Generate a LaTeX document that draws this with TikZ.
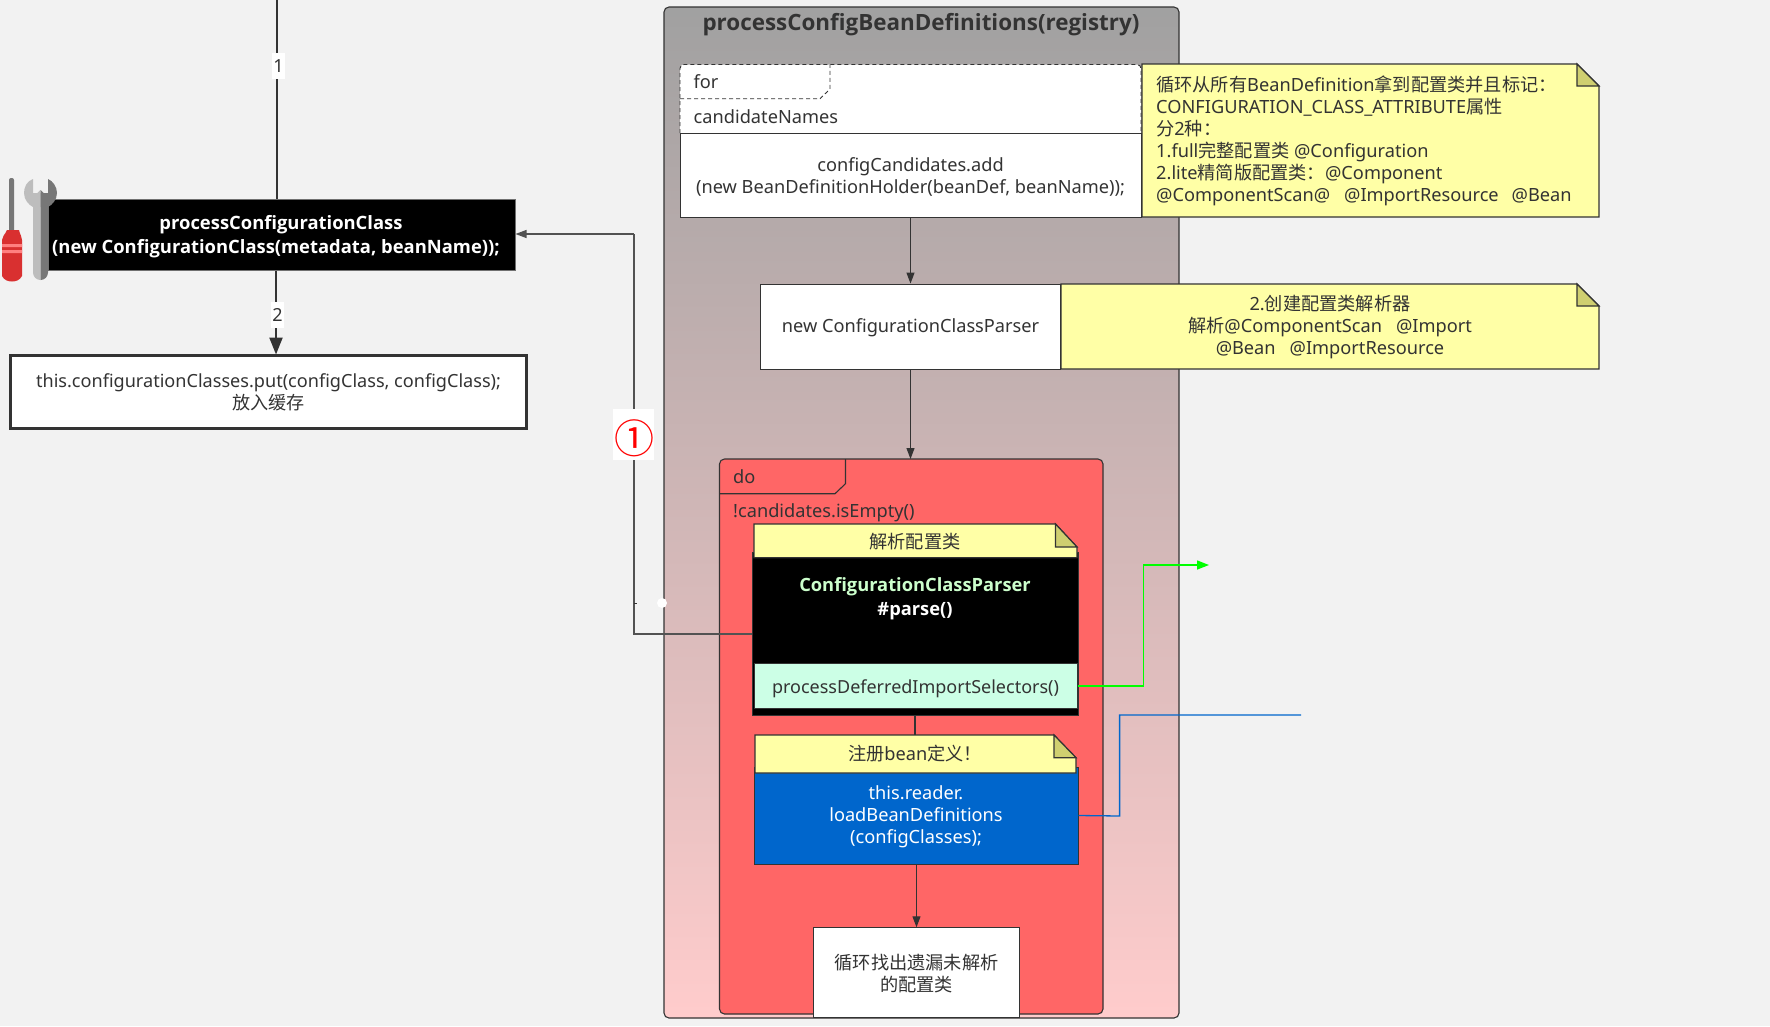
\documentclass[tikz,border=0pt]{standalone}
\usepackage{fontspec}
\setmainfont{Noto Sans}
\newfontfamily\cjk{Noto Sans CJK SC}
\newfontfamily\hb{Open Sans}
\newcommand{\cn}[1]{{\cjk #1}}
\usetikzlibrary{arrows.meta,calc}
\definecolor{bgc}{HTML}{F2F2F2}
\definecolor{ink}{HTML}{333333}
\definecolor{notey}{HTML}{FFFFA6}
\definecolor{foldy}{HTML}{CFCF70}
\definecolor{doc}{HTML}{FF6666}
\definecolor{blu}{HTML}{0066CC}
\definecolor{mint}{HTML}{CCFFE6}
\definecolor{redtool}{HTML}{D93030}
\definecolor{stripe}{HTML}{FF8080}
\definecolor{toollight}{HTML}{BDBDBD}
\definecolor{tooldark}{HTML}{777777}
\tikzset{
  conn/.style={draw=ink,line width=1.1pt,-{Triangle[length=11pt,width=8pt]}},
  plainbox/.style={draw=ink,fill=white,line width=0.9pt,inner sep=0pt},
  txt/.style={text=ink,font=\fontsize{18.2}{22}\selectfont,align=center,inner sep=0pt,yshift=-2pt},
  ltxt/.style={txt,anchor=west,align=left},
  notebody/.style={draw=ink,fill=notey,line width=1.2pt},
  notefold/.style={draw=ink,fill=foldy,line width=1.2pt},
  edgelab/.style={fill=white,text=ink,font=\fontsize{18}{22}\selectfont,inner sep=0pt,minimum width=13pt,minimum height=26pt},
}
\begin{document}
\begin{tikzpicture}[x=1pt,y=-1pt]
\useasboundingbox (0,0) rectangle (1770,1026);
\fill[bgc] (0,0) rectangle (1770,1026);

% big container
\shade[top color=black!37,bottom color=red!20,rounded corners=5pt] (664,7) rectangle (1179,1018);
\draw[ink,line width=1.1pt,rounded corners=5pt] (664,7) rectangle (1179,1018);
\node[txt,font=\hb\bfseries\fontsize{22.4}{26}\selectfont] (title) at (921,22.5) {processConfigBeanDefinitions(registry)};

% top left
\coordinate (topin) at (277,0);
\node[draw=ink!70,fill=black,line width=1pt,minimum width=467pt,minimum height=71pt,inner sep=0pt] (pcc) at (281.5,234.5) {};
\node[txt,text=white,font=\hb\bfseries\fontsize{18.4}{23.7}\selectfont] (pcct) at (276,234.5)
  {\hspace*{10pt}processConfigurationClass\\(new ConfigurationClass(metadata, beanName));};
\node[draw=ink,fill=white,line width=2.2pt,minimum width=516pt,minimum height=73pt,inner sep=0pt,
      txt,font=\fontsize{18.1}{22}\selectfont,yshift=2pt] (put) at (268.5,392)
  {this.configurationClasses.put(configClass, configClass);\\\cn{放入缓存}};
\draw[ink,line width=1.1pt] (topin) -- (topin|-pcc.north);
\node[edgelab] (l1) at (278.5,66) {1};
\draw[draw=ink,line width=2.2pt,-{Triangle[length=17pt,width=13pt]}] (pcc.south-|276,0) -- (276,354.5);
\node[edgelab] (l2) at (277.5,315) {2};

% tools
\fill[tooldark,rounded corners=2pt] (9,178) rectangle (14,233);
\fill[redtool] (7,230) -- (19,230) .. controls (20,235) and (22,236) .. (22,240) -- (22,276) .. controls (20,280) and (16,281.5) .. (12,281.5) .. controls (8,281.5) and (4,280) .. (2,276) -- (2,240) .. controls (2,236) and (5,235) .. cycle;
\fill[stripe] (2,244) rectangle (22,247) (2,250) rectangle (22,253);
\fill[toollight] (33,197) -- (33,272.5) arc[start angle=180,end angle=90,radius=7.5] -- (40.5,190) -- cycle;
\fill[tooldark] (48,197) -- (48,272.5) arc[start angle=0,end angle=90,radius=7.5] -- (40.5,190) -- cycle;
\fill[toollight] (33,179) .. controls (27,181) and (24,187) .. (24,193) .. controls (24,200) and (29,205) .. (33,207) -- (40.5,207) -- (40.5,193) -- (33,193) -- cycle;
\fill[tooldark] (48,179) .. controls (53,181) and (57,187) .. (57,193) .. controls (57,200) and (52,205) .. (48,207) -- (40.5,207) -- (40.5,193) -- (48,193) -- cycle;

% for frame
\fill[white,rounded corners=4pt] (680,64.5) rectangle (1141,140);
\draw[ink,line width=0.9pt,dash pattern=on 4pt off 3pt,rounded corners=4pt] (680,133) -- (680,64.5) -- (1141,64.5) -- (1141,133);
\draw[ink,line width=0.9pt,dash pattern=on 4pt off 3pt] (680,98.7) -- (820,98.7) -- (830,89) -- (830,64.5);
\node[ltxt] (for) at (693.5,80) {for};
\node[ltxt] (cn) at (693.5,115) {candidateNames};
\node[plainbox,minimum width=461pt,minimum height=84pt] (add) at (910.5,175) {};
\node[txt] (addt) at (910.5,175)
  {configCandidates.add\\(new BeanDefinitionHolder(beanDef, beanName));};

% note 1
\draw[notebody] (1142,64) -- (1577,64) -- (1599,86) -- (1599,217) -- (1142,217) -- cycle;
\draw[notefold] (1577,64) -- (1599,86) -- (1577,86) -- cycle;
\node[ltxt,anchor=north west] (n1) at (1156,74)
  {\cn{循环从所有}BeanDefinition\cn{拿到配置类并且标记：}\\
   CONFIGURATION\_CLASS\_ATTRIBUTE\cn{属性}\\
   \cn{分}2\cn{种：}\\
   1.full\cn{完整配置类} @Configuration\\
   2.lite\cn{精简版配置类：}@Component\\
   @ComponentScan@\hspace{14pt}@ImportResource\hspace{13pt}@Bean};

\coordinate (backturn) at (634,234);

\begin{scope}[yshift=-1pt]
% note 2 and parser
\draw[notebody] (1061,283) -- (1577,283) -- (1599,305) -- (1599,368) -- (1061,368) -- cycle;
\draw[notefold] (1577,283) -- (1599,305) -- (1577,305) -- cycle;
\node[txt] (n2) at (1330,324.5)
  {2.\cn{创建配置类解析器}\\\cn{解析}@ComponentScan\hspace{14pt}@Import\\@Bean\hspace{14pt}@ImportResource};
\node[plainbox,minimum width=300pt,minimum height=85pt] (parser) at (910.5,325.5) {};
\node[txt] (parsert) at (910.5,324.7) {new ConfigurationClassParser};
\draw[conn] (add.south) -- (parser.north);

% do frame
\draw[ink,fill=doc,line width=1.1pt,rounded corners=5pt] (719.5,458) rectangle (1103,1013);
\draw[ink,line width=1.1pt] (719.5,492.7) -- (835,492.7) -- (845.5,482.7) -- (845.5,458);
\node[ltxt] (do) at (733,473.5) {do};
\node[ltxt] (cond) at (733,509.5) {!candidates.isEmpty()};
\coordinate (dotop) at (910.5,458);
\draw[conn] (parser.south) -- (dotop);

% parse box
\node[draw=ink,fill=black,line width=1pt,minimum width=326pt,minimum height=163pt,inner sep=0pt] (parse) at (915,633) {};
\node[txt,text=green!20!white,font=\hb\bfseries\fontsize{18.3}{22}\selectfont] (pt1) at (915,584) {ConfigurationClassParser};
\node[txt,text=white,font=\hb\bfseries\fontsize{18.3}{22}\selectfont] (pt2) at (915,608) {\#parse()};
\draw[notebody] (754,523) -- (1055.5,523) -- (1077,546) -- (1077,556.7) -- (754,556.7) -- cycle;
\draw[notefold] (1055.5,523) -- (1077,546) -- (1055.5,546) -- cycle;
\node[txt] (n3) at (915,538.5) {\cn{解析配置类}};
\node[draw=ink,fill=mint,line width=1pt,minimum width=323pt,minimum height=45pt,inner sep=0pt] (sel) at (915.5,685) {};
\node[txt,font=\fontsize{18}{22}\selectfont] (selt) at (915.5,685.3) {processDeferredImportSelectors()};

% blue box
\node[draw=ink,fill=blu,line width=1pt,minimum width=324pt,minimum height=97pt,inner sep=0pt] (load) at (916,814.5) {};
\node[txt,text=white] (lt) at (916,814) {this.reader.\\loadBeanDefinitions\\(configClasses);};
\coordinate (njoin) at (915,734);
\draw[ink,line width=1.1pt] (parse.south-|njoin) -- (njoin);
\draw[notebody] (755,734) -- (1054,734) -- (1076,756.7) -- (1076,772) -- (755,772) -- cycle;
\draw[notefold] (1054,734) -- (1076,756.7) -- (1054,756.7) -- cycle;
\node[txt] (n4) at (915,751) {\cn{注册}bean\cn{定义！}};

% last box
\node[plainbox,minimum width=205.5pt,minimum height=90pt] (last) at (916.5,971.7) {};
\node[txt] (lastt) at (916.5,970.7) {\cn{循环找出遗漏未解析}\\\cn{的配置类}};
\draw[conn] (last.north|-load.south) -- (last.north);

% outgoing connectors
\coordinate (gout) at (1209,564);
\coordinate (bout) at (1301,714);
\draw[draw=green,line width=1.4pt,-{Triangle[length=12pt,width=9pt]}] (sel.east) -- (1143.7,685) -- (1143.7,564) -- (gout);
\draw[blu,line width=1.3pt] (load.east) -- (1119.6,815) -- (1119.6,714) -- (bout);

% back connector
\coordinate (backstart) at (752,633);
\draw[draw=ink!85,line width=1.1pt] (backstart) -- (634,633) -- (backturn);
\end{scope}
\draw[conn,draw=ink!85] (backturn) -- (pcc.east|-backturn);

% small artefact on the back connector
\fill[white] (662,603) circle[radius=5];
\draw[ink,line width=1pt] (634,603) -- (637,603);

\node[fill=white,minimum width=41pt,minimum height=51pt,inner sep=0pt] (markbg) at (633.5,434.5) {};
\node[text=red,inner sep=0pt,font=\cjk\fontsize{40}{40}\selectfont] (mark) at (634,438.7) {①};
\end{tikzpicture}
\end{document}
